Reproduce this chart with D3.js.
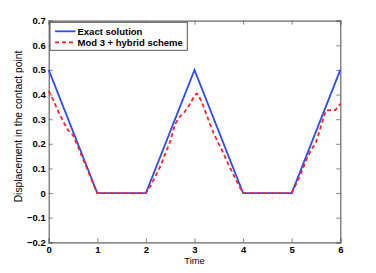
<!DOCTYPE html>
<html><head><meta charset="utf-8">
<script src="https://cdn.jsdelivr.net/npm/d3@7"></script>
<style>html,body{margin:0;padding:0;background:#fff;}svg{display:block;}</style>
</head><body>
<script>
const exactT = [0, 1, 2, 3, 4, 5, 6];
const exactY = [0.5, 0, 0, 0.5, 0, 0, 0.5];
const hybridT = [0, 0.1, 0.2, 0.3, 0.4, 0.5, 0.6, 0.7, 0.8, 0.9, 1.0, 2.0, 2.1, 2.2, 2.3, 2.4, 2.5, 2.6, 2.7, 2.8, 2.9, 3.0, 3.05, 3.1, 3.2, 3.3, 3.4, 3.5, 3.6, 3.7, 3.8, 3.9, 4.0, 5.0, 5.1, 5.2, 5.3, 5.4, 5.5, 5.6, 5.7, 5.8, 5.9, 6.0];
const hybridY = [0.415, 0.375, 0.33, 0.29, 0.255, 0.235, 0.19, 0.14, 0.095, 0.045, 0, 0, 0.03, 0.07, 0.11, 0.16, 0.21, 0.28, 0.31, 0.33, 0.36, 0.395, 0.405, 0.39, 0.345, 0.29, 0.24, 0.2, 0.16, 0.115, 0.075, 0.035, 0, 0, 0.04, 0.085, 0.135, 0.175, 0.205, 0.27, 0.335, 0.337, 0.337, 0.362];
const xTicks = [0, 1, 2, 3, 4, 5, 6];
const yTicks = [-0.2, -0.1, 0, 0.1, 0.2, 0.3, 0.4, 0.5, 0.6, 0.7];
const legendLabels = ["Exact solution", "Mod 3 + hybrid scheme"];
const xLabel = "Time";
const yLabel = "Displacement in the contact point";

const W = 376, H = 273;
const m = {l: 48.7, r: 340.3, t: 20.7, b: 242.3};
const svg = d3.select("body").append("svg").attr("width", W).attr("height", H);
const x = d3.scaleLinear().domain([0, 6]).range([m.l, m.r]);
const y = d3.scaleLinear().domain([-0.2, 0.7]).range([m.b, m.t]);
const font = "'Liberation Sans', Arial, sans-serif";
const axisColor = "#666";

function fmt(v){ const s = d3.format(".1f")(v); return v === 0 ? "0" : s.replace("-", "\u2212"); }

// axes
const gB = svg.append("g").attr("transform", `translate(0,${m.b})`)
  .call(d3.axisBottom(x).tickValues(xTicks).tickSize(-4).tickPadding(4.3).tickFormat(d3.format("d")));
const gT = svg.append("g").attr("transform", `translate(0,${m.t})`)
  .call(d3.axisTop(x).tickValues(xTicks).tickSize(-4).tickFormat(""));
const gL = svg.append("g").attr("transform", `translate(${m.l},0)`)
  .call(d3.axisLeft(y).tickValues(yTicks).tickSize(-4).tickPadding(3).tickFormat(fmt));
const gR = svg.append("g").attr("transform", `translate(${m.r},0)`)
  .call(d3.axisRight(y).tickValues(yTicks).tickSize(-4).tickFormat(""));
[gB, gT, gL, gR].forEach(g => {
  g.select(".domain").attr("stroke", axisColor).attr("stroke-width", 1.2);
  g.selectAll(".tick line").attr("stroke", axisColor).attr("stroke-width", 0.8);
  g.selectAll(".tick text").attr("fill", "#000").attr("font-family", font)
    .attr("font-size", 9.5).attr("font-weight", "bold");
});

// lines
const line = d3.line().x(d => x(d[0])).y(d => y(d[1]));
svg.append("path").datum(exactT.map((t, i) => [t, exactY[i]]))
  .attr("d", line).attr("fill", "none").attr("stroke", "#2b4cff").attr("stroke-width", 1.8);
svg.append("path").datum(hybridT.map((t, i) => [t, hybridY[i]]))
  .attr("d", line).attr("fill", "none").attr("stroke", "#ff2020").attr("stroke-width", 1.8)
  .attr("stroke-dasharray", "4,3");

// legend
const lg = svg.append("g");
lg.append("rect").attr("x", 50).attr("y", 22.3).attr("width", 137.3).attr("height", 28)
  .attr("fill", "#fff").attr("stroke", "#555").attr("stroke-width", 1);
const styles = [{c: "#2b4cff", d: null}, {c: "#ff2020", d: "4,3"}];
legendLabels.forEach((lab, i) => {
  const yy = 31.3 + i * 11;
  lg.append("line").attr("x1", 55).attr("x2", 75.5).attr("y1", yy).attr("y2", yy)
    .attr("stroke", styles[i].c).attr("stroke-width", 1.8).attr("stroke-dasharray", styles[i].d);
  lg.append("text").attr("x", 77.5).attr("y", yy).attr("dy", "0.35em")
    .attr("font-family", font).attr("font-size", 9.5).attr("font-weight", "bold").text(lab);
});

// labels
svg.append("text").attr("x", x(3)).attr("y", 264.2).attr("text-anchor", "middle")
  .attr("font-family", font).attr("font-size", 9.3).text(xLabel);
svg.append("text").attr("transform", `translate(21.5,126.5) rotate(-90)`)
  .attr("text-anchor", "middle").attr("font-family", font).attr("font-size", 10.3).text(yLabel);
</script>
</body></html>
